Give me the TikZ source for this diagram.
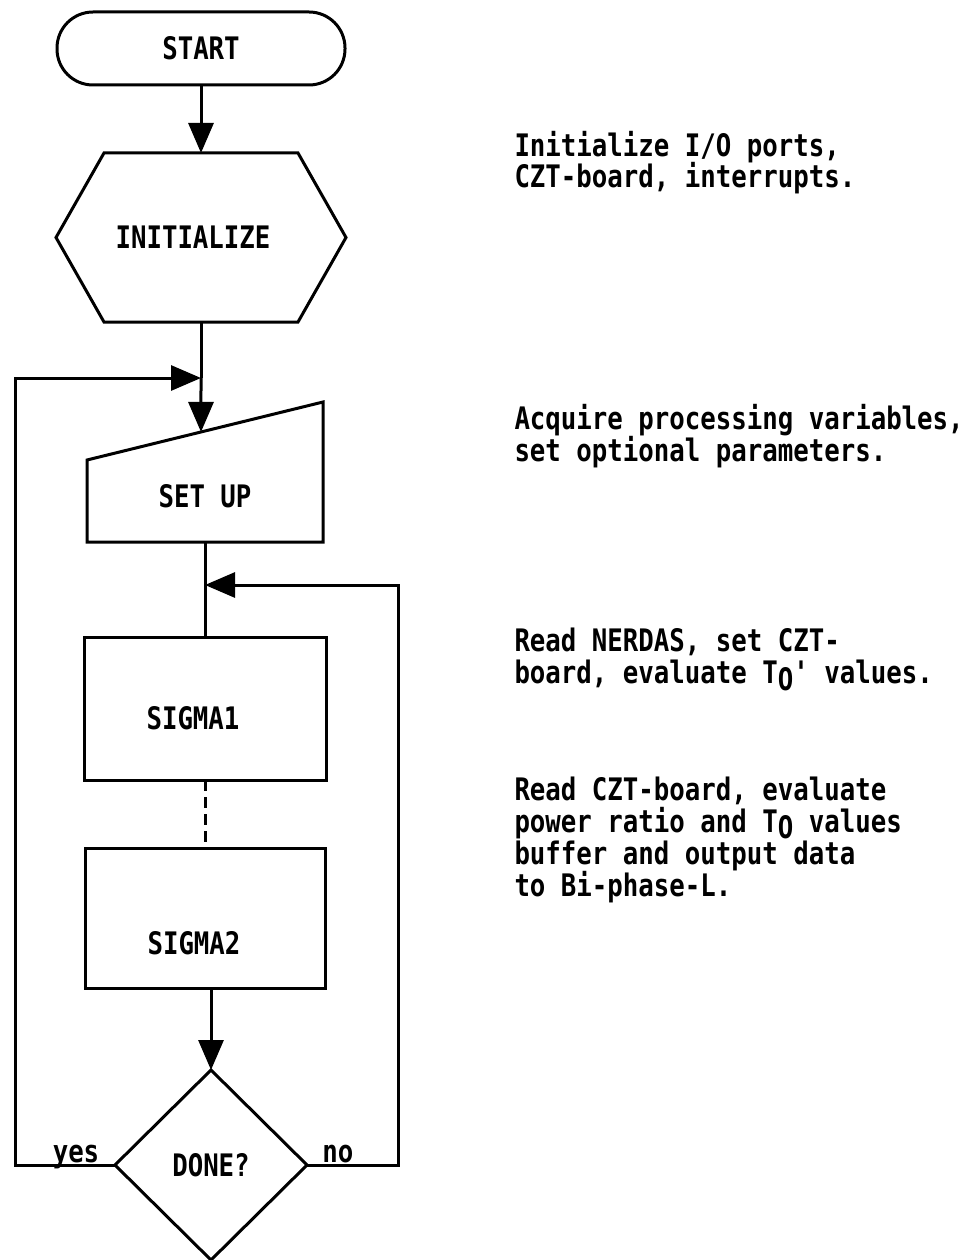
\documentclass[tikz,border=0pt]{standalone}
\usepackage{fontspec}
\newfontfamily\typefont[FakeStretch=0.83]{DejaVu Sans Mono}
\usetikzlibrary{arrows.meta,shapes.geometric,calc}
\begin{document}
\begin{tikzpicture}[x=1pt,y=-1pt,line width=3pt,
font=\typefont\bfseries\fontsize{31}{32}\selectfont,
box/.style={draw,outer sep=0pt,inner sep=0pt},
flow/.style={-{Triangle[length=30pt,width=25pt]}},
note/.style={anchor=base west,align=left,inner sep=0pt}]
\useasboundingbox(0,0)rectangle(977,1260);
\node[box,rounded corners=36pt,minimum width=288pt,minimum height=73pt](start)at(201,48.5){START};
\node[outer sep=0pt,minimum width=290pt,minimum height=169pt,label={[xshift=-8pt]center:INITIALIZE}](init)at(201,237.5){};
\draw([xshift=48pt]init.north west)--([xshift=-48pt]init.north east)--(init.east)
--([xshift=-48pt]init.south east)--([xshift=48pt]init.south west)--(init.west)--cycle;
\node[outer sep=0pt,minimum width=236pt,minimum height=92pt](setup)at(205,496){SET UP};
\coordinate(sul)at([yshift=-10pt]setup.north west);
\coordinate(sur)at([yshift=48pt]setup.north east);
\draw(setup.south west)--(setup.south east)--(sur)--(sul)--cycle;
\node[box,minimum width=242pt,minimum height=143pt,label={[xshift=-12pt,yshift=-10pt]center:SIGMA1}](sig1)at(205,708.5){};
\node[box,minimum width=240pt,minimum height=140pt,label={[xshift=-11pt,yshift=-25pt]center:SIGMA2}](sig2)at(205,918){};
\node[box,diamond,aspect=1,minimum width=192pt,minimum height=190pt](dec)at(211,1165){DONE?};
\coordinate(j1)at(201,378);
\coordinate(j2)at(205,585);
\coordinate(setin)at($(sul)!0.483!(sur)$);
\draw[flow](start.south)--(start.south|-init.north);
\draw(init.south)--(j1);
\draw[flow](j1)--(setin);
\draw(setup.south)--(sig1.north);
\draw[dash pattern=on 11pt off 6pt](sig1.south)--(sig2.north);
\draw[flow](dec.north|-sig2.south)--(dec.north);
\draw[flow](dec.west)--node[pos=0.39,anchor=base,yshift=3pt](yes){yes}(15,1165)|-(j1);
\draw[flow](dec.east)--node[pos=0.34,anchor=base,yshift=3pt](no){no}(398,1165)|-(j2);
\node[note](n1)at(513,188){Initialize I/O ports,\\CZT-board, interrupts.};
\node[note](n2)at(513,461){Acquire processing variables,\\set optional parameters.};
\node[note](n3)at(513,683){Read NERDAS, set CZT-\\board, evaluate T\raisebox{-7pt}{O}' values.};
\node[note](n4)at(513,896){Read CZT-board, evaluate\\power ratio and T\raisebox{-6pt}{O} values\\buffer and output data\\to Bi-phase-L.};
\end{tikzpicture}
\end{document}
